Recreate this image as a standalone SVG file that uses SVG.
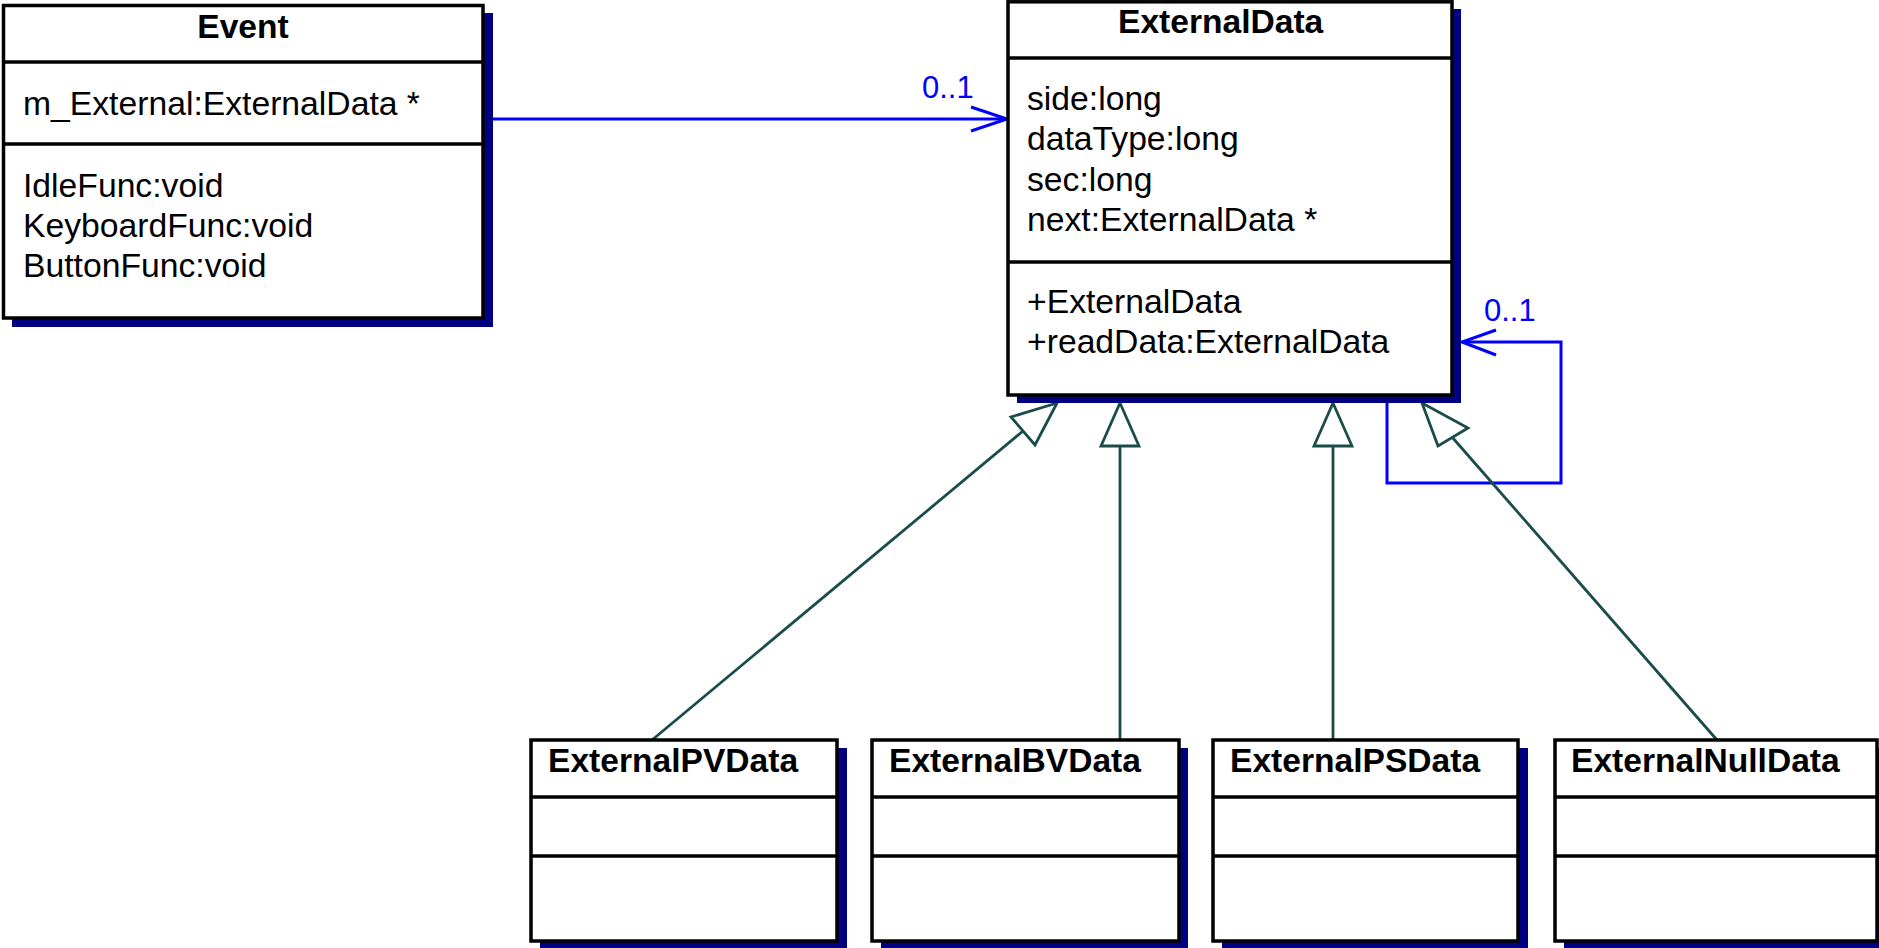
<svg xmlns="http://www.w3.org/2000/svg" width="1879" height="948" viewBox="0 0 1879 948">
<style>
.shadow{fill:#000080;stroke:none}
.box{fill:#ffffff;stroke:#000000;stroke-width:3.5}
.sep{stroke:#000000;stroke-width:3.5;fill:none}
.title{font-family:"Liberation Sans",Arial,sans-serif;font-size:33.6px;font-weight:bold;fill:#000000}
.txt{font-family:"Liberation Sans",Arial,sans-serif;font-size:33.7px;fill:#000000}
.mult{font-family:"Liberation Sans",Arial,sans-serif;font-size:31px;fill:#0000ff}
.assoc{stroke:#0000ff;stroke-width:3;fill:none}
.gen{stroke:#1a4d4a;stroke-width:2.8;fill:none}
.tri{stroke:#1a4d4a;stroke-width:2.8;fill:#ffffff}
</style>
<rect width="1879" height="948" fill="#ffffff"/>

<g id="connectors">
  <line class="assoc" x1="492" y1="119" x2="1007" y2="119"/>
  <polyline class="assoc" points="971,107 1007,119 971,131"/>
  <text class="mult" x="922" y="98">0..1</text>
  <polyline class="assoc" points="1387,403 1387,483 1561,483 1561,342 1462,342"/>
  <polyline class="assoc" points="1496,330 1462,342 1496,355"/>
  <text class="mult" x="1484" y="321">0..1</text>
  <line class="gen" x1="1023" y1="431" x2="652" y2="740"/>
  <polygon class="tri" points="1057,403 1035,445 1011,417"/>
  <line class="gen" x1="1120" y1="446" x2="1120" y2="740"/>
  <polygon class="tri" points="1120,403 1139,446 1101,446"/>
  <line class="gen" x1="1333" y1="446" x2="1333" y2="740"/>
  <polygon class="tri" points="1333,403 1352,446 1314,446"/>
  <line class="gen" x1="1452" y1="437" x2="1717" y2="740"/>
  <polygon class="tri" points="1422,403 1468,428 1438,446"/>
</g>

<g id="Event">
  <rect class="shadow" x="12" y="13" width="481" height="314"/>
  <rect class="box" x="3.5" y="5.5" width="479.5" height="312.5"/>
  <line class="sep" x1="3.5" y1="62" x2="483" y2="62"/>
  <line class="sep" x1="3.5" y1="144" x2="483" y2="144"/>
  <text class="title" x="243" y="38" text-anchor="middle">Event</text>
  <text class="txt" x="23" y="115">m_External:ExternalData *</text>
  <text class="txt" x="23" y="197">IdleFunc:void</text>
  <text class="txt" x="23" y="237">KeyboardFunc:void</text>
  <text class="txt" x="23" y="277">ButtonFunc:void</text>
</g>

<g id="ExternalData">
  <rect class="shadow" x="1017" y="9" width="444" height="394"/>
  <rect class="box" x="1008" y="1.8" width="444" height="393.2"/>
  <line class="sep" x1="1008" y1="58" x2="1452" y2="58"/>
  <line class="sep" x1="1008" y1="262" x2="1452" y2="262"/>
  <text class="title" x="1118" y="33">ExternalData</text>
  <text class="txt" x="1027" y="110">side:long</text>
  <text class="txt" x="1027" y="150">dataType:long</text>
  <text class="txt" x="1027" y="191">sec:long</text>
  <text class="txt" x="1027" y="231">next:ExternalData *</text>
  <text class="txt" x="1027" y="313">+ExternalData</text>
  <text class="txt" x="1027" y="353">+readData:ExternalData</text>
</g>

<g id="ExternalPVData">
  <rect class="shadow" x="540" y="748" width="307" height="200"/>
  <rect class="box" x="531" y="740" width="306" height="201"/>
  <line class="sep" x1="531" y1="797" x2="837" y2="797"/>
  <line class="sep" x1="531" y1="856" x2="837" y2="856"/>
  <text class="title" x="548" y="772">ExternalPVData</text>
</g>

<g id="ExternalBVData">
  <rect class="shadow" x="881" y="748" width="307" height="200"/>
  <rect class="box" x="872" y="740" width="307" height="201"/>
  <line class="sep" x1="872" y1="797" x2="1179" y2="797"/>
  <line class="sep" x1="872" y1="856" x2="1179" y2="856"/>
  <text class="title" x="889" y="772">ExternalBVData</text>
</g>

<g id="ExternalPSData">
  <rect class="shadow" x="1222" y="748" width="306" height="200"/>
  <rect class="box" x="1213" y="740" width="305" height="201"/>
  <line class="sep" x1="1213" y1="797" x2="1518" y2="797"/>
  <line class="sep" x1="1213" y1="856" x2="1518" y2="856"/>
  <text class="title" x="1230" y="772">ExternalPSData</text>
</g>

<g id="ExternalNullData">
  <rect class="shadow" x="1564" y="748" width="320" height="200"/>
  <rect class="box" x="1555" y="740" width="322" height="201"/>
  <line class="sep" x1="1555" y1="797" x2="1877" y2="797"/>
  <line class="sep" x1="1555" y1="856" x2="1877" y2="856"/>
  <text class="title" x="1571" y="772">ExternalNullData</text>
</g>
</svg>
